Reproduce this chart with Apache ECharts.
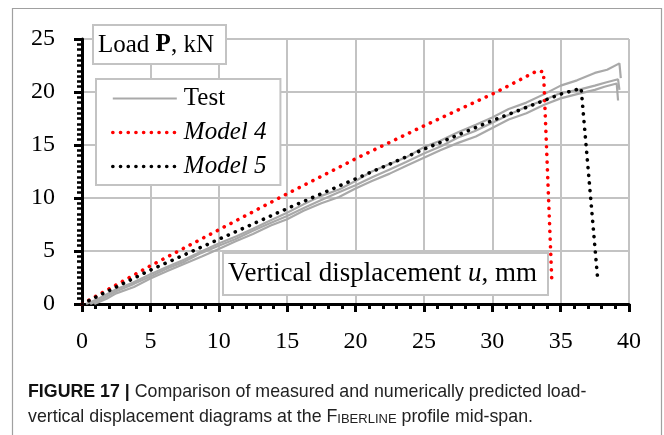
<!DOCTYPE html>
<html>
<head>
<meta charset="utf-8">
<script src="https://cdn.jsdelivr.net/npm/echarts@6/dist/echarts.min.js"></script>
<style>
html,body{margin:0;padding:0;background:#fff;}
#chart{width:664px;height:435px;}
</style>
</head>
<body>
<div id="chart"></div>
<script>
// ---- data ----
const xTicks = [0, 5, 10, 15, 20, 25, 30, 35, 40];
const yTicks = [0, 5, 10, 15, 20, 25];

const test1X = [0.3, 1.2, 2.5, 3.7, 5, 6.2, 7.5, 8.8, 10, 11.3, 12.5, 13.8, 15, 16.2, 17.5, 18.8, 20, 21.2, 22.5, 23.8, 25, 26.2, 27.5, 28.8, 30, 31.2, 32.5, 33.8, 35, 36.2, 37.5, 38.4, 39.3, 39.4];
const test1Y = [0, 0.5, 1.4, 2.0, 2.8, 3.5, 4.2, 5.0, 5.7, 6.4, 7.1, 7.9, 8.6, 9.4, 10.2, 10.8, 11.6, 12.5, 13.2, 13.9, 14.8, 15.4, 16.2, 16.9, 17.6, 18.4, 19.0, 19.8, 20.6, 21.1, 21.8, 22.1, 22.7, 21.3];

const test2X = [0.6, 1.5, 2.5, 3.8, 5, 6.3, 7.5, 8.7, 10, 11.2, 12.5, 13.7, 15, 16.3, 17.5, 18.7, 20, 21.3, 22.5, 23.7, 25, 26.3, 27.5, 28.7, 30, 31.3, 32.5, 33.7, 35, 36.3, 37.5, 38.3, 39.2, 39.3];
const test2Y = [0, 0.5, 1.2, 1.9, 2.6, 3.4, 4.0, 4.8, 5.5, 6.1, 6.9, 7.6, 8.3, 9.1, 9.8, 10.5, 11.2, 12.0, 12.7, 13.4, 14.2, 14.9, 15.7, 16.3, 17.1, 17.9, 18.6, 19.2, 19.9, 20.2, 20.6, 20.9, 21.2, 20.2];

const test3X = [0.9, 1.8, 2.5, 3.8, 5, 6.2, 7.5, 8.8, 10, 11.2, 12.5, 13.8, 15, 16.2, 17.5, 18.8, 20, 21.2, 22.5, 23.8, 25, 26.2, 27.5, 28.8, 30, 31.2, 32.5, 33.8, 35, 36.2, 37.5, 38.2, 39.1, 39.2];
const test3Y = [0, 0.5, 1.0, 1.6, 2.4, 3.1, 3.8, 4.5, 5.2, 5.9, 6.6, 7.4, 8.0, 8.8, 9.5, 10.1, 10.9, 11.6, 12.3, 13.1, 13.8, 14.5, 15.2, 15.8, 16.6, 17.4, 18.0, 18.8, 19.4, 19.8, 20.2, 20.5, 20.8, 19.2];

const model4X = [0, 5, 10, 15, 20, 25, 30, 33.3, 33.75, 34.35];
const model4Y = [0, 3.6, 7.0, 10.4, 13.7, 16.8, 19.8, 22.0, 21.9, 2.4];

const model5X = [0, 5, 10, 15, 20, 25, 30, 35, 36.5, 37.7];
const model5Y = [0, 3.2, 6.1, 9.0, 11.8, 14.6, 17.3, 19.8, 20.35, 2.5];

const seriesNames = ['Test', 'Model 4', 'Model 5'];
const yTitle = 'Load {b|P}, kN';
const xTitle = 'Vertical displacement {i|u}, mm';
const captionLine1 = '{b|FIGURE 17 |} Comparison of measured and numerically predicted load-';
const captionLine2 = 'vertical displacement diagrams at the {f|F}{s|IBERLINE} profile mid-span.';

const zip = (xs, ys) => xs.map((x, i) => [x, ys[i]]);

const SERIF = '"Liberation Serif", "Times New Roman", serif';
const SANS = '"Liberation Sans", Arial, sans-serif';
const GRID = '#c3c3c3';
const testColor = '#a9a9a9';
const DOT = {width: 3.6, type: [0.1, 7.6], cap: 'round'};

const chart = echarts.init(document.getElementById('chart'), null, {renderer: 'canvas'});

function testSeries(xs, ys) {
  return {
    name: seriesNames[0], type: 'line', data: zip(xs, ys), symbol: 'none',
    lineStyle: {color: testColor, width: 2.2}, itemStyle: {color: testColor},
    z: 2, animation: false
  };
}
function dotted(name, xs, ys, color) {
  return {
    name: name, type: 'line', data: zip(xs, ys), symbol: 'none',
    lineStyle: Object.assign({color: color}, DOT),
    itemStyle: {color: color}, z: 3, animation: false
  };
}

const option = {
  animation: false,
  backgroundColor: '#fff',
  grid: {left: 82, top: 39, width: 547, height: 265, containLabel: false},
  xAxis: {
    type: 'value', min: xTicks[0], max: xTicks[xTicks.length - 1], interval: 5,
    axisLine: {onZero: false, lineStyle: {color: '#000', width: 3}},
    axisTick: {show: true, length: 8, lineStyle: {color: '#000', width: 3}},
    minorTick: {show: true, splitNumber: 5, length: 5, lineStyle: {color: '#000', width: 3}},
    splitLine: {show: true, lineStyle: {color: GRID, width: 2}},
    axisLabel: {fontFamily: SERIF, fontSize: 24, color: '#000', margin: 26}
  },
  yAxis: {
    type: 'value', min: yTicks[0], max: yTicks[yTicks.length - 1], interval: 5,
    axisLine: {onZero: false, lineStyle: {color: '#000', width: 3}},
    axisTick: {show: true, length: 8, lineStyle: {color: '#000', width: 3}},
    minorTick: {show: true, splitNumber: 10, length: 5, lineStyle: {color: '#000', width: 2.5}},
    splitLine: {show: true, lineStyle: {color: GRID, width: 2}},
    axisLabel: {fontFamily: SERIF, fontSize: 24, color: '#000', margin: 27}
  },
  title: [
    {
      text: yTitle, left: 93, top: 25, padding: [7, 12, 6, 5],
      borderColor: GRID, borderWidth: 2, backgroundColor: '#fff',
      textStyle: {fontFamily: SERIF, fontSize: 25, fontWeight: 'normal', color: '#000', lineHeight: 26,
        rich: {b: {fontFamily: SERIF, fontSize: 25, fontWeight: 'bold', color: '#000', lineHeight: 26}}}
    },
    {
      text: xTitle, left: 223, top: 253, padding: [7, 11, 7, 5],
      borderColor: GRID, borderWidth: 2, backgroundColor: '#fff',
      textStyle: {fontFamily: SERIF, fontSize: 27, fontWeight: 'normal', color: '#000', lineHeight: 28,
        rich: {i: {fontFamily: SERIF, fontSize: 27, fontStyle: 'italic', color: '#000', lineHeight: 28}}}
    }
  ],
  legend: {
    left: 96, top: 79, orient: 'vertical',
    data: [
      {name: seriesNames[0]},
      {name: seriesNames[1], lineStyle: Object.assign({color: '#ff0000'}, DOT)},
      {name: seriesNames[2], lineStyle: Object.assign({color: '#000000'}, DOT)}
    ],
    padding: [7, 14, 6, 15], itemGap: 9, itemWidth: 64, itemHeight: 14,
    borderColor: GRID, borderWidth: 2, backgroundColor: '#fff',
    selectedMode: false,
    itemStyle: {opacity: 0},
    textStyle: {fontFamily: SERIF, fontSize: 25, color: '#000', padding: [0, 0, 0, 2],
      rich: {it: {fontFamily: SERIF, fontSize: 25, fontStyle: 'italic', color: '#000'}}},
    formatter: function (n) { return n === seriesNames[0] ? n : '{it|' + n + '}'; }
  },
  series: [
    testSeries(test1X, test1Y),
    testSeries(test2X, test2Y),
    testSeries(test3X, test3Y),
    dotted(seriesNames[1], model4X, model4Y, '#ff0000'),
    dotted(seriesNames[2], model5X, model5Y, '#000000')
  ],
  graphic: [
    {
      type: 'polyline', silent: true,
      shape: {points: [[12.5, 436], [12.5, 8.5], [661.5, 8.5], [661.5, 436]]},
      style: {stroke: '#a0a0a0', lineWidth: 1.2, fill: null}
    },
    {
      type: 'text', left: 28, top: 383.5, silent: true,
      style: {
        text: captionLine1,
        fontFamily: SANS, fontSize: 17.8, fill: '#222',
        rich: {b: {fontFamily: SANS, fontSize: 17.8, fontWeight: 'bold', fill: '#111'}}
      }
    },
    {
      type: 'text', left: 28, top: 408.5, silent: true,
      style: {
        text: captionLine2,
        fontFamily: SANS, fontSize: 17.8, fill: '#222',
        rich: {
          f: {fontFamily: SANS, fontSize: 17.8, fill: '#222'},
          s: {fontFamily: SANS, fontSize: 13, fill: '#222', padding: [3, 0, 0, 0]}
        }
      }
    }
  ]
};
chart.setOption(option);
</script>
</body>
</html>
